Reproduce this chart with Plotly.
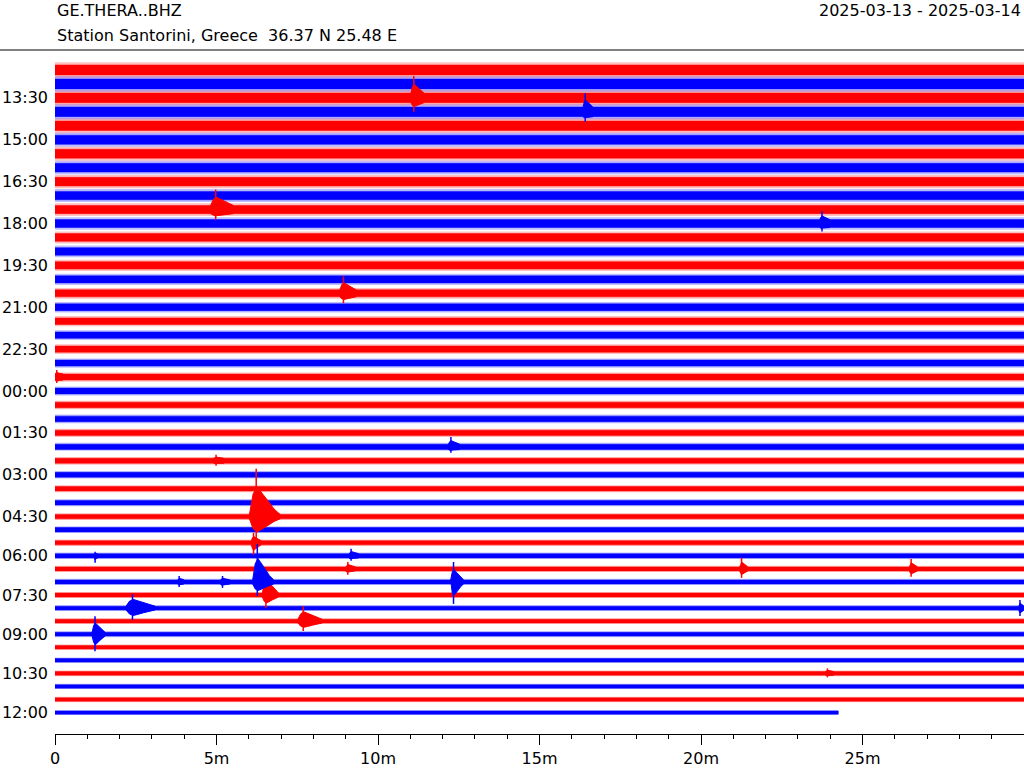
import plotly.graph_objects as go

# ---------------- data ----------------
row_times = [
    "12:30", "13:00", "13:30", "14:00", "14:30", "15:00", "15:30", "16:00",
    "16:30", "17:00", "17:30", "18:00", "18:30", "19:00", "19:30", "20:00",
    "20:30", "21:00", "21:30", "22:00", "22:30", "23:00", "23:30", "00:00",
    "00:30", "01:00", "01:30", "02:00", "02:30", "03:00", "03:30", "04:00",
    "04:30", "05:00", "05:30", "06:00", "06:30", "07:00", "07:30", "08:00",
    "08:30", "09:00", "09:30", "10:00", "10:30", "11:00", "11:30", "12:00",
]
# background noise half-amplitude of each row (screen px)
noise_px = [
    5.0, 5.0, 4.9, 4.9, 4.8, 4.6, 4.5, 4.4, 4.3, 4.2,
    4.1, 4.0, 3.9, 3.8, 3.7, 3.6, 3.5, 3.4, 3.3, 3.2,
    3.1, 3.0, 3.0, 2.9, 2.8, 2.8, 2.7, 2.6, 2.5, 2.4,
    2.3, 2.3, 2.2, 2.2, 2.1, 2.1, 2.0, 2.0, 2.0, 1.9,
    1.9, 1.9, 1.8, 1.8, 1.8, 1.7, 1.7, 1.6,
]
last_row_end_min = 24.25

# events: row, onset (min), duration (min), peak up (px), peak down (px)
event_row = [2, 3, 10, 16, 11, 22, 27, 28, 32, 34, 37, 38, 40, 35, 36,
             37, 37, 37, 39, 41, 35, 36, 36, 39, 44]
event_min = [11.02, 16.35, 4.82, 8.82, 23.68, 0.0, 12.18, 4.92, 6.02, 6.08,
             6.12, 6.42, 7.52, 9.10, 9.00, 12.25, 5.12, 3.80, 2.20, 1.15,
             1.22, 21.20, 26.45, 29.84, 23.86]
event_dur = [0.40, 0.30, 0.70, 0.50, 0.30, 0.25, 0.35, 0.30, 0.95, 0.30,
             0.65, 0.50, 0.75, 0.30, 0.30, 0.40, 0.30, 0.20, 0.90, 0.40,
             0.10, 0.25, 0.25, 0.16, 0.25]
event_up = [22, 19, 20, 17, 12, 7, 10, 6, 48, 10, 38, 25, 15, 7, 7,
            20, 6, 6, 14, 18, 4, 11, 10, 8, 5]
event_down = [14, 10, 10, 10, 8, 6, 6, 5, 25, 12, 14, 13, 10, 5, 6,
              22, 6, 5, 12, 17, 7, 9, 8, 8, 4]

x_ticks = [0, 5, 10, 15, 20, 25]
x_tick_text = ["0", "5m", "10m", "15m", "20m", "25m"]
colors = ["#ff0000", "#0000ff"]

title_left = "GE.THERA..BHZ"
title_station = "Station Santorini, Greece\u00a0 36.37 N 25.48 E"
title_right = "2025-03-13 - 2025-03-14"

# ---------------- layout helpers ----------------
def row_y(i):
    return i * 14.0 if i <= 32 else 32 * 14.0 + (i - 32) * 13.1

n_rows = len(row_times)
spike_factor = 1.55
dense_factor = 0.62
# envelope of an event burst (fraction of duration, fraction of dense amplitude)
shape_t = [0.0, 0.12, 0.25, 0.4, 0.6, 0.8, 1.0]
shape_a = [0.0, 0.75, 1.0, 0.8, 0.5, 0.2, 0.0]
spike_at = 0.22

polys = {c: {"outer": ([], []), "core": ([], []), "event": ([], []), "spike": ([], [])}
         for c in colors}

def add_poly(store, xs, ys):
    store[0].extend(xs + [xs[0], None])
    store[1].extend(ys + [ys[0], None])

for i in range(n_rows):
    c = colors[i % 2]
    y0 = row_y(i)
    x_end = 30.0 if i < n_rows - 1 else last_row_end_min
    a = noise_px[i]
    o = a * spike_factor
    add_poly(polys[c]["outer"], [0, x_end, x_end, 0], [y0 - o, y0 - o, y0 + o, y0 + o])
    add_poly(polys[c]["core"], [0, x_end, x_end, 0], [y0 - a, y0 - a, y0 + a, y0 + a])

for r, t0, d, up, dn in zip(event_row, event_min, event_dur, event_up, event_down):
    c = colors[r % 2]
    y0 = row_y(r)
    a = noise_px[r]
    du = max(a, up * dense_factor)
    dd = max(a, dn * dense_factor)
    xs_top = [min(t0 + f * d, 30.0) for f in shape_t]
    ys_top = [y0 - (a + s * (du - a)) for s in shape_a]
    xs_bot = xs_top[::-1]
    ys_bot = [y0 + (a + s * (dd - a)) for s in shape_a[::-1]]
    add_poly(polys[c]["event"], xs_top + xs_bot, ys_top + ys_bot)
    ts = min(t0 + spike_at * d, 30.0)
    sx, sy = polys[c]["spike"]
    sx.extend([ts, ts, None])
    sy.extend([y0 - up, y0 + dn, None])

fig = go.Figure()
for c in colors:
    xs, ys = polys[c]["outer"]
    fig.add_trace(go.Scatter(
        x=xs, y=ys, mode="lines", fill="toself", line=dict(width=0, color=c),
        fillcolor="rgba(0,0,0,0)",
        fillpattern=dict(shape="|", fgcolor=c, bgcolor="rgba(0,0,0,0)", size=2, solidity=0.5),
        hoverinfo="skip", showlegend=False))
for c in colors:
    xs, ys = polys[c]["core"]
    fig.add_trace(go.Scatter(
        x=xs, y=ys, mode="lines", fill="toself", fillcolor=c,
        line=dict(width=0.5, color=c), hoverinfo="skip", showlegend=False))
for c in colors:
    xs, ys = polys[c]["event"]
    fig.add_trace(go.Scatter(
        x=xs, y=ys, mode="lines", fill="toself", fillcolor=c,
        line=dict(width=1, color=c), hoverinfo="skip", showlegend=False))
    xs, ys = polys[c]["spike"]
    fig.add_trace(go.Scatter(
        x=xs, y=ys, mode="lines", line=dict(width=1.5, color=c),
        hoverinfo="skip", showlegend=False))

label_rows = list(range(2, n_rows, 3))
font = dict(family="DejaVu Sans", size=16, color="black")

L, R, T, B = 55, 0, 55, 32
W, H = 1024, 768
pw, ph = W - L - R, H - T - B

def px_x(px):
    return (px - L) / pw

def px_y(py):
    return (H - B - py) / ph

fig.update_layout(
    width=W, height=H, margin=dict(l=L, r=R, t=T, b=B),
    paper_bgcolor="white", plot_bgcolor="white", font=font,
    xaxis=dict(range=[0, 30], showgrid=False, zeroline=False, showline=True,
               linecolor="black", linewidth=1, ticks="outside", ticklen=10,
               tickcolor="black", tickwidth=1, tickvals=x_ticks, ticktext=x_tick_text,
               tickfont=font,
               minor=dict(dtick=1, ticks="outside", ticklen=4, tickcolor="black", tickwidth=1)),
    yaxis=dict(range=[666, -15], showgrid=False, zeroline=False, showline=False,
               ticks="", tickvals=[row_y(i) for i in label_rows],
               ticktext=[row_times[i] for i in label_rows], tickfont=font,
               ticklabelstandoff=6),
    annotations=[
        dict(text=title_left, x=px_x(55), y=px_y(10), xref="paper", yref="paper",
             xanchor="left", yanchor="middle", showarrow=False, font=font),
        dict(text=title_station, x=px_x(55), y=px_y(35), xref="paper", yref="paper",
             xanchor="left", yanchor="middle", showarrow=False, font=font),
        dict(text=title_right, x=px_x(1023), y=px_y(10), xref="paper", yref="paper",
             xanchor="right", yanchor="middle", showarrow=False, font=font),
    ],
    shapes=[dict(type="line", xref="paper", yref="paper", x0=px_x(0), x1=px_x(1024),
                 y0=px_y(50), y1=px_y(50), line=dict(color="black", width=1))],
)

fig.write_html("out.html")
